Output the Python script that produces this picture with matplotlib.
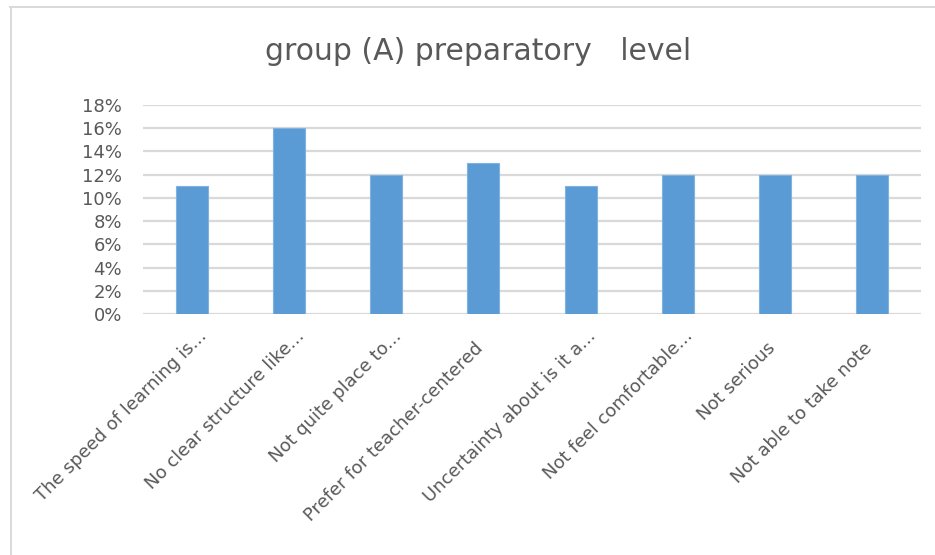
import matplotlib.pyplot as plt
from matplotlib.ticker import PercentFormatter
from matplotlib.lines import Line2D
from matplotlib.transforms import ScaledTranslation

categories = ["The speed of learning is...", "No clear structure like...", "Not quite place to...",
              "Prefer for teacher-centered", "Uncertainty about is it a...", "Not feel comfortable...",
              "Not serious", "Not able to take note"]
values = [11, 16, 12, 13, 11, 12, 12, 12]
yticks = [0, 2, 4, 6, 8, 10, 12, 14, 16, 18]

plt.rcParams['font.family'] = ['DejaVu Sans']
text_col = '#595959'

fig = plt.figure(figsize=(9.35, 5.55), dpi=100)
ax = fig.add_axes([143/935, 1 - 314/555, (921 - 143)/935, (314 - 105)/555])

ax.bar(range(len(values)), values, width=0.33, color='#5B9BD5', edgecolor='#7FB2E0',
       linewidth=0.8, zorder=3)
ax.set_xlim(-0.5, len(values) - 0.5)
ax.set_ylim(0, 18)
ax.set_yticks(yticks)
ax.yaxis.set_major_formatter(PercentFormatter(decimals=0))
ax.grid(axis='y', color='#d9d9d9', linewidth=1.6, zorder=0)
for s in ax.spines.values():
    s.set_visible(False)
ax.tick_params(axis='both', length=0, colors=text_col)
ax.tick_params(axis='y', labelsize=13, pad=15)
ax.set_xticks(range(len(values)))
ax.set_xticklabels([])

# rotated category labels; truncated ones sit a bit further along the slant (as Excel draws them)
for i, lab in enumerate(categories):
    dx, dy = -9, -25
    if lab.endswith('...'):
        dx, dy = 6, -13
    tr = ax.get_xaxis_transform() + ScaledTranslation(dx/100, dy/100, fig.dpi_scale_trans)
    ax.text(i, 0, lab, transform=tr, rotation=45, ha='right', va='top',
            rotation_mode='anchor', fontsize=13, color=text_col)

fig.text(478/935, 1 - 52/555, "group (A) preparatory   level", ha='center', va='center',
         fontsize=21.5, color=text_col)

# chart border (only left and top visible in the crop)
fig.add_artist(Line2D([10.5/935, 10.5/935], [0, 1 - 6.5/555], transform=fig.transFigure,
                      color='#d9d9d9', linewidth=1.4))
fig.add_artist(Line2D([10/935, 1], [1 - 6.5/555, 1 - 6.5/555], transform=fig.transFigure,
                      color='#d9d9d9', linewidth=1.4))

fig.savefig('out.png', dpi=100)
